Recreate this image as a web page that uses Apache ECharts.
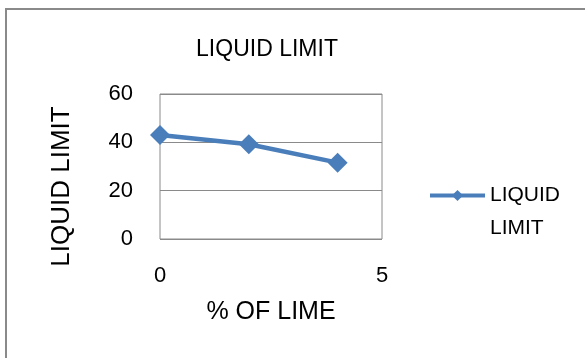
<!DOCTYPE html>
<html>
<head>
<meta charset="utf-8">
<script src="https://cdn.jsdelivr.net/npm/echarts@6/dist/echarts.min.js"></script>
<style>
  html, body { margin: 0; padding: 0; background: #fff; }
  #chart { width: 585px; height: 358px; }
</style>
</head>
<body>
<div id="chart"></div>
<script>
// data
var limePercent = [0, 2, 4];
var liquidLimit = [43, 39.2, 31.6];
var seriesName = 'LIQUID LIMIT';

var points = limePercent.map(function (x, i) {
    return [x, liquidLimit[i]];
});

var font = '"Liberation Sans", Arial, sans-serif';

var myChart = echarts.init(document.getElementById('chart'));
var option = {
    backgroundColor: '#fff',
    animation: false,
    // outer frame of the chart area
    graphic: [{
        type: 'rect',
        shape: { x: 6, y: 9, width: 640, height: 420 },
        style: { fill: 'none', stroke: '#8a8a8a', lineWidth: 2 },
        silent: true
    }],
    title: {
        text: 'LIQUID LIMIT',
        left: 262,
        top: 33,
        textAlign: 'center',
        textStyle: { fontFamily: font, fontSize: 23, fontWeight: 'normal', color: '#000' }
    },
    legend: {
        left: 428,
        top: 146,
        padding: 0,
        itemWidth: 55,
        itemHeight: 14,
        // blank first line so that the icon sits beside "LIQUID"
        formatter: function () { return '\u00a0\nLIQUID\nLIMIT'; },
        textStyle: { fontFamily: font, fontSize: 21, color: '#000', lineHeight: 33 },
        lineStyle: { width: 4 },
        data: [seriesName]
    },
    grid: {
        left: 160,
        top: 94,
        width: 222,
        height: 145,
        show: true,
        borderColor: '#8a8a8a',
        borderWidth: 1
    },
    xAxis: {
        type: 'value',
        min: 0,
        max: 5,
        interval: 5,
        name: '% OF LIME',
        nameLocation: 'middle',
        nameGap: 61,
        nameTextStyle: { fontFamily: font, fontSize: 25, color: '#000' },
        axisLine: { show: false },
        axisTick: { show: false },
        splitLine: { show: false },
        axisLabel: { fontFamily: font, fontSize: 22, color: '#000', margin: 26 }
    },
    yAxis: {
        type: 'value',
        min: 0,
        max: 60,
        interval: 20,
        name: 'LIQUID LIMIT',
        nameLocation: 'middle',
        nameGap: 85,
        nameTextStyle: { fontFamily: font, fontSize: 26, color: '#000', padding: [0, 40, 0, 0] },
        axisLine: { show: false },
        axisTick: { show: false },
        splitLine: { lineStyle: { color: '#8a8a8a', width: 1 } },
        axisLabel: { fontFamily: font, fontSize: 22, color: '#000', margin: 27 }
    },
    series: [{
        name: seriesName,
        type: 'line',
        data: points,
        symbol: 'diamond',
        symbolSize: 20,
        itemStyle: { color: '#4a7ebb' },
        lineStyle: { color: '#4a7ebb', width: 4.5 }
    }]
};
option && myChart.setOption(option);
</script>
</body>
</html>
